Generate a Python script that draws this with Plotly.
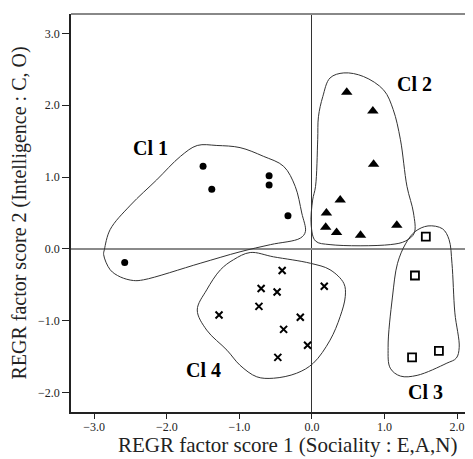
import plotly.graph_objects as go

# ---- data ----
cl1_x = [-2.58, -1.50, -1.38, -0.59, -0.59, -0.33]
cl1_y = [-0.19, 1.15, 0.83, 1.02, 0.89, 0.46]

cl2_x = [0.48, 0.84, 0.85, 0.39, 0.20, 0.19, 0.34, 0.67, 1.17]
cl2_y = [2.18, 1.92, 1.18, 0.68, 0.50, 0.30, 0.23, 0.19, 0.33]

cl3_x = [1.57, 1.42, 1.38, 1.75]
cl3_y = [0.17, -0.37, -1.51, -1.42]

cl4_x = [-1.28, -0.41, -0.70, -0.48, -0.73, 0.17, -0.16, -0.39, -0.06, -0.47]
cl4_y = [-0.92, -0.30, -0.55, -0.60, -0.80, -0.52, -0.95, -1.12, -1.34, -1.51]

# cluster outlines (closed curves, data coordinates)
out1_x = [-1.31, -0.99, -0.67, -0.39, -0.23, -0.14, -0.09, -0.16, -0.57, -0.99, -1.54, -2.32,
          -2.46, -2.64, -2.78, -2.87, -2.86, -2.78, -2.50, -2.14, -1.81, -1.58, -1.31]
out1_y = [1.44, 1.41, 1.29, 1.15, 0.87, 0.50, 0.24, 0.15, 0.06, -0.04, -0.20, -0.43,
          -0.44, -0.39, -0.29, -0.08, -0.01, 0.27, 0.61, 0.96, 1.29, 1.44, 1.44]

out2_x = [0.44, 0.71, 0.99, 1.12, 1.22, 1.31, 1.40, 1.41, 1.29, 1.08, 0.25, 0.05,
          -0.01, 0.01, 0.05, 0.08, 0.09, 0.15, 0.25, 0.44]
out2_y = [2.45, 2.40, 2.21, 1.94, 1.52, 0.87, 0.50, 0.22, 0.11, 0.06, 0.06, 0.11,
          0.33, 0.68, 0.87, 1.52, 1.84, 2.12, 2.38, 2.45]

out3_x = [1.60, 1.80, 1.89, 1.93, 1.97, 2.03, 1.99, 1.86, 1.45, 1.22, 1.08, 1.05,
          1.11, 1.18, 1.29, 1.42, 1.60]
out3_y = [0.32, 0.28, 0.13, -0.20, -0.89, -1.37, -1.52, -1.59, -1.76, -1.77, -1.66, -1.37,
          -0.67, -0.20, 0.07, 0.24, 0.32]

out4_x = [-0.53, -0.02, 0.25, 0.44, 0.46, 0.39, 0.25, 0.02, -0.21, -0.53, -0.76, -0.99,
          -1.17, -1.45, -1.58, -1.45, -1.26, -1.08, -0.85, -0.53]
out4_y = [-0.11, -0.20, -0.29, -0.48, -0.66, -0.94, -1.27, -1.59, -1.73, -1.80, -1.78, -1.62,
          -1.41, -1.13, -0.85, -0.57, -0.29, -0.15, -0.05, -0.11]

labels = ["Cl 1", "Cl 2", "Cl 3", "Cl 4"]
label_x = [-2.23, 1.42, 1.56, -1.50]
label_y = [1.41, 2.30, -1.99, -1.69]

x_ticks = [-3, -2, -1, 0, 1, 2]
y_ticks = [-2, -1, 0, 1, 2, 3]

x_title = "REGR factor score 1 (Sociality : E,A,N)"
y_title = "REGR factor score 2 (Intelligence : C, O)"

SERIF = "Liberation Serif, Times New Roman, serif"
INK = "#222222"

fig = go.Figure()

for ox, oy in [(out1_x, out1_y), (out2_x, out2_y), (out3_x, out3_y), (out4_x, out4_y)]:
    fig.add_trace(go.Scatter(x=ox, y=oy, mode="lines",
                             line=dict(color="#333333", width=1, shape="spline", smoothing=1.0),
                             hoverinfo="skip", showlegend=False))

fig.add_trace(go.Scatter(x=cl1_x, y=cl1_y, mode="markers", name="Cl 1",
                         marker=dict(symbol="circle", size=7, color="black")))
fig.add_trace(go.Scatter(x=cl2_x, y=cl2_y, mode="markers", name="Cl 2",
                         marker=dict(symbol="triangle-up", size=10, color="black")))
fig.add_trace(go.Scatter(x=cl3_x, y=cl3_y, mode="markers", name="Cl 3",
                         marker=dict(symbol="square-open", size=8, color="black",
                                     line=dict(width=1.8, color="black"))))
fig.add_trace(go.Scatter(x=cl4_x, y=cl4_y, mode="markers", name="Cl 4",
                         marker=dict(symbol="x-thin", size=7, color="black",
                                     line=dict(width=2, color="black"))))

for t, lx, ly in zip(labels, label_x, label_y):
    fig.add_annotation(x=lx, y=ly, text="<b>" + t + "</b>", showarrow=False,
                       font=dict(family=SERIF, size=20, color="black"),
                       xanchor="center", yanchor="middle")

# x-axis title placed as annotation (original chart is cropped on the right)
fig.add_annotation(x=-0.33, xref="x", y=-0.084, yref="paper", text=x_title,
                   showarrow=False, xanchor="center", yanchor="middle",
                   font=dict(family=SERIF, size=21, color=INK))

# top frame line
fig.add_shape(type="line", xref="paper", yref="paper", x0=0, x1=1, y0=1, y1=1,
              line=dict(color="#888888", width=2))

# page body adds an 8px margin, so the figure is sized/offset to compensate
fig.update_layout(
    width=465, height=451,
    margin=dict(l=63, r=0, t=6, b=47, autoexpand=False),
    paper_bgcolor="white", plot_bgcolor="white",
    showlegend=False,
    font=dict(family=SERIF, color=INK),
)
fig.update_xaxes(range=[-3.32, 2.22], tickvals=x_ticks, tickformat=".1f",
                 ticks="outside", ticklen=5, tickcolor=INK, tickwidth=1,
                 ticklabelstandoff=-2,
                 showgrid=False, showline=True, linecolor=INK, linewidth=1.5,
                 zeroline=True, zerolinecolor="#333333", zerolinewidth=1,
                 automargin=False,
                 tickfont=dict(family=SERIF, size=12, color=INK))
fig.update_yaxes(range=[-2.27, 3.27], tickvals=y_ticks, tickformat=".1f",
                 ticks="outside", ticklen=7, tickcolor=INK, tickwidth=1,
                 showgrid=False, showline=True, linecolor=INK, linewidth=1.5,
                 zeroline=True, zerolinecolor="#8a8a8a", zerolinewidth=2,
                 automargin=False,
                 tickfont=dict(family=SERIF, size=12, color=INK),
                 title=dict(text=y_title, font=dict(family=SERIF, size=20, color=INK),
                            standoff=6))

fig.write_html("out.html")
